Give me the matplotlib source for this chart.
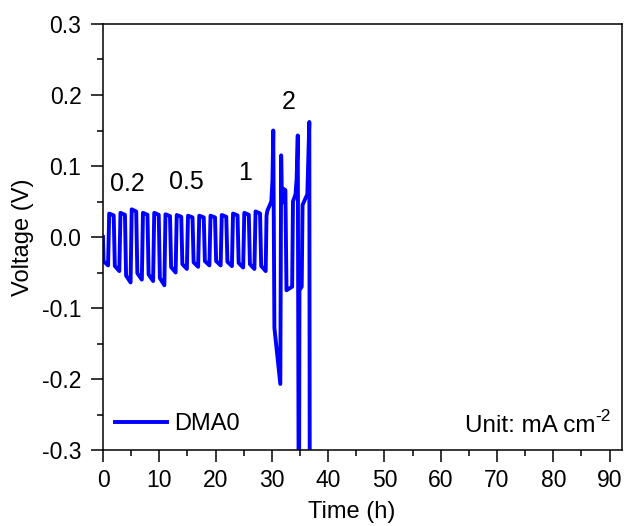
import matplotlib
matplotlib.use("Agg")
import matplotlib.pyplot as plt
from matplotlib.ticker import MultipleLocator, FormatStrFormatter

plt.rcParams['font.family'] = ['Liberation Sans', 'DejaVu Sans']

# --- data ---
# 0-28 h: square-wave cycling, negative half (2k..2k+1) then positive half (2k+1..2k+2)
neg_low = [-0.040, -0.048, -0.064, -0.060, -0.062, -0.068, -0.050, -0.045,
           -0.042, -0.040, -0.040, -0.041, -0.043, -0.045, -0.048]
pos_high = [0.033, 0.034, 0.039, 0.034, 0.034, 0.032, 0.031, 0.030,
            0.030, 0.030, 0.031, 0.033, 0.034, 0.036]
# 29 h onward (2 mA cm-2 region and failure), explicit vertices
tail_t = [29.05, 29.2, 29.9, 30.1, 30.25, 30.45, 31.5, 31.65, 31.8, 32.0, 32.4, 32.6,
          33.6, 33.75, 34.2, 34.4, 34.6, 34.8, 34.9, 35.3, 35.45, 36.0, 36.3, 36.65, 36.75]
tail_v = [0.030, 0.037, 0.050, 0.079, 0.150, -0.128, -0.207, 0.115, 0.048, 0.068, 0.066, -0.075,
          -0.070, 0.050, 0.060, 0.082, 0.143, -0.50, -0.075, -0.070, 0.045, 0.055, 0.060, 0.162, -0.50]
rate_labels = ['0.2', '0.5', '1', '2']
rate_pos_t = [4.4, 14.9, 25.2, 33.0]
rate_pos_v = [0.074, 0.078, 0.090, 0.190]

# build trace
t = [0.0]
v = [0.0]
for k in range(len(neg_low)):
    t0 = 2 * k
    t += [t0 + 0.1, t0 + 0.9]
    v += [neg_low[k] * 0.85, neg_low[k]]
    if k < len(pos_high):
        t += [t0 + 1.1, t0 + 1.9]
        v += [pos_high[k], pos_high[k] * 0.92]
t += tail_t
v += tail_v

fig = plt.figure(figsize=(6.27, 5.26), dpi=100)
ax = fig.add_axes([103/627, 1-450/526, (622-103)/627, (450-24)/526])
ax.plot(t, v, color='#0000ff', lw=2.8, solid_joinstyle='round', label='DMA0')

ax.set_xlim(0, 92.2)
ax.set_ylim(-0.3, 0.3)
ax.xaxis.set_major_locator(MultipleLocator(10))
ax.xaxis.set_minor_locator(MultipleLocator(5))
ax.yaxis.set_major_locator(MultipleLocator(0.1))
ax.yaxis.set_minor_locator(MultipleLocator(0.05))
ax.yaxis.set_major_formatter(FormatStrFormatter('%.1f'))
ax.tick_params(which='major', direction='out', length=8.5, width=1.1, labelsize=16.5)
ax.tick_params(axis='y', which='major', pad=7)
ax.tick_params(axis='x', which='major', pad=5)
ax.tick_params(which='minor', direction='out', length=4.5, width=1.1)
ax.tick_params(top=False, right=False)
for s in ax.spines.values():
    s.set_linewidth(1.1)

ax.set_xlabel('Time (h)', fontsize=17)
ax.set_ylabel('Voltage (V)', fontsize=17)
ax.xaxis.set_label_coords(0.48, -0.12)
ax.yaxis.set_label_coords(-0.133, 0.5)

for lab, tt, vv in zip(rate_labels, rate_pos_t, rate_pos_v):
    ax.text(tt, vv, lab, fontsize=18, ha='center', va='center')

ax.legend(loc='lower left', bbox_to_anchor=(0.005, 0.0127), frameon=False, fontsize=17,
          handlelength=2.2, handletextpad=0.3, borderaxespad=0)
t1 = ax.text(0.697, 0.042, 'Unit: mA cm', transform=ax.transAxes, fontsize=17.5,
             ha='left', va='baseline')
ax.annotate('-2', xy=(1, 0.6), xycoords=t1, fontsize=12.5, ha='left', va='bottom')

fig.savefig('out.png', dpi=100)
